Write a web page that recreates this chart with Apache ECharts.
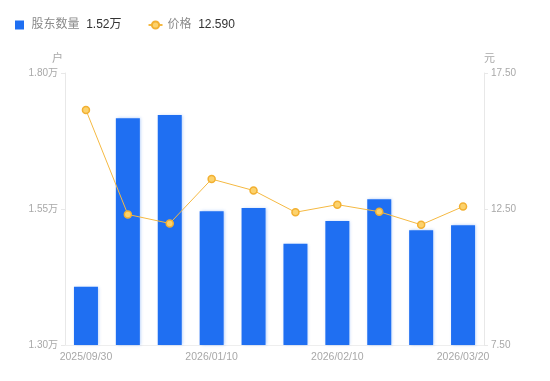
<!DOCTYPE html>
<html><head><meta charset="utf-8">
<script src="https://cdn.jsdelivr.net/npm/echarts@6/dist/echarts.min.js"></script>
<style>html,body{margin:0;padding:0;background:#fff}#c{width:550px;height:381px}</style>
</head><body><div id="c"></div>
<script>
var categories = ['2025/09/30','2025/10/31','2025/12/31','2026/01/10','2026/01/20','2026/01/31','2026/02/10','2026/02/28','2026/03/10','2026/03/20'];
var holders = [1.407, 1.717, 1.723, 1.546, 1.552, 1.486, 1.528, 1.568, 1.511, 1.520];
var prices = [16.14, 12.30, 11.97, 13.60, 13.18, 12.38, 12.66, 12.40, 11.92, 12.59];
var leftTicks = [1.30, 1.80, 0.25];
var rightTicks = [7.50, 17.50, 5];
var FONT = "'Liberation Sans','Noto Sans CJK SC',sans-serif";
var chart = echarts.init(document.getElementById('c'));
chart.setOption({
  animation: false,
  textStyle: {fontFamily: FONT},
  legend: {
    left: 10, top: 14, itemGap: 26, itemWidth: 14, itemHeight: 9, symbolKeepAspect: true,
    data: [{name: '股东数量', icon: 'path://M0,0L9,0L9,9L0,9Z'}, {name: '价格'}],
    formatter: function (n) {
      return n === '股东数量' ? '{a|' + n + '}  {b|' + holders[holders.length-1].toFixed(2) + '万}'
                              : '{a|' + n + '}  {b|' + prices[prices.length-1].toFixed(3) + '}';
    },
    textStyle: {rich: {a: {color: '#8a8a8a', fontSize: 12, fontFamily: FONT}, b: {color: '#333', fontSize: 12, fontFamily: FONT}}}
  },
  grid: {left: 65, right: 66, top: 73, bottom: 36},
  xAxis: {
    type: 'category', data: categories,
    axisLine: {show: true, lineStyle: {color: '#eeeeee'}},
    axisTick: {show: false},
    axisLabel: {interval: 2, color: '#a8a8a8', fontSize: 10.5, margin: 7, fontFamily: FONT}
  },
  yAxis: [{
    type: 'value', min: leftTicks[0], max: leftTicks[1], interval: leftTicks[2],
    name: '户', nameGap: 9, nameTextStyle: {color: '#a8a8a8', fontSize: 11, align: 'right', padding: [0, 2, 0, 0]},
    axisLine: {show: true, lineStyle: {color: '#e8e8e8'}},
    axisTick: {show: true, length: 4, lineStyle: {color: '#e8e8e8'}},
    splitLine: {show: false},
    axisLabel: {color: '#a8a8a8', fontSize: 10, margin: 7, formatter: function (v) { return v.toFixed(2) + '万'; }}
  }, {
    type: 'value', min: rightTicks[0], max: rightTicks[1], interval: rightTicks[2],
    name: '元', nameGap: 9, nameTextStyle: {color: '#a8a8a8', fontSize: 11, align: 'left'},
    axisLine: {show: true, lineStyle: {color: '#e8e8e8'}},
    axisTick: {show: true, length: 4, lineStyle: {color: '#e8e8e8'}},
    splitLine: {show: false},
    axisLabel: {color: '#a8a8a8', fontSize: 10, margin: 7, formatter: function (v) { return v.toFixed(2); }}
  }],
  series: [{
    name: '股东数量', type: 'bar', yAxisIndex: 0, data: holders, barWidth: 24,
    itemStyle: {color: '#1f6ff2', shadowColor: 'rgba(31,111,242,0.35)', shadowBlur: 3, shadowOffsetX: 1}
  }, {
    name: '价格', type: 'line', yAxisIndex: 1, data: prices,
    symbol: 'circle', symbolSize: 7,
    lineStyle: {color: '#f5b942', width: 1},
    itemStyle: {color: '#fcd26c', borderColor: '#f2b032', borderWidth: 1.5}
  }]
});
</script></body></html>
